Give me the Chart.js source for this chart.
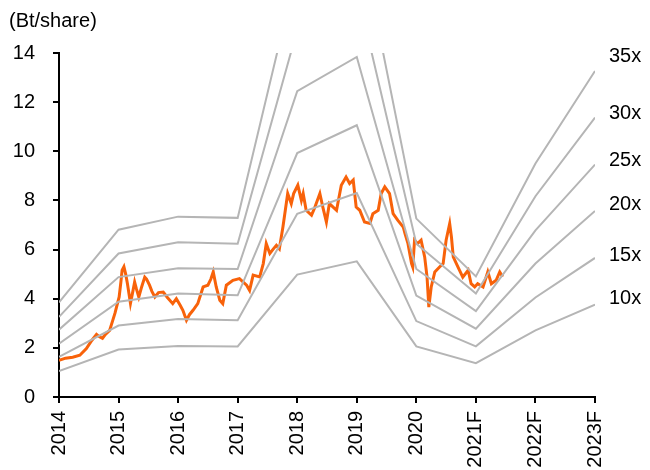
<!DOCTYPE html>
<html>
<head>
<meta charset="utf-8">
<script src="https://cdn.jsdelivr.net/npm/chart.js@4"></script>
<style>
  html, body { margin: 0; padding: 0; background: #fff; }
  #wrap { width: 650px; height: 470px; position: relative; }
</style>
</head>
<body>
<div id="wrap"><canvas id="peChart" width="650" height="470"></canvas></div>
<script>
// x axis: year index 0..9
const yearLabels = ['2014', '2015', '2016', '2017', '2018', '2019', '2020', '2021F', '2022F', '2023F'];

// PE bands (Bt/share) read at each year
const band10x = [1.06, 1.93, 2.08, 2.06, 4.98, 5.52, 2.06, 1.38, 2.71, 3.76];
const band15x = [1.63, 2.91, 3.17, 3.12, 7.46, 8.30, 3.09, 2.06, 4.05, 5.66];
const band20x = [2.17, 3.88, 4.21, 4.14, 9.93, 11.06, 4.13, 2.78, 5.43, 7.57];
const band25x = [2.74, 4.88, 5.24, 5.21, 12.45, 13.84, 5.21, 3.50, 6.78, 9.46];
const band30x = [3.26, 5.84, 6.30, 6.24, 14.94, 16.60, 6.24, 4.21, 8.17, 11.37];
const band35x = [3.85, 6.81, 7.34, 7.29, 17.43, 19.37, 7.26, 4.91, 9.50, 13.27];
const bandNames = ['10x', '15x', '20x', '25x', '30x', '35x'];

// share price: time (years since start of 2014) and price
const priceTime = [0.00, 0.11, 0.23, 0.35, 0.46, 0.55, 0.63, 0.68, 0.73, 0.78, 0.85, 0.90, 0.94, 0.97,
  1.01, 1.04, 1.06, 1.09, 1.12, 1.15, 1.20, 1.24, 1.27, 1.30, 1.34, 1.39, 1.44, 1.47, 1.52, 1.56,
  1.61, 1.67, 1.75, 1.82, 1.91, 1.97, 2.03, 2.08, 2.14, 2.19, 2.25, 2.33, 2.42, 2.50, 2.55, 2.59,
  2.64, 2.70, 2.75, 2.81, 2.92, 3.03, 3.15, 3.20, 3.26, 3.37, 3.43, 3.48, 3.54, 3.59, 3.65, 3.70,
  3.76, 3.80, 3.84, 3.90, 3.94, 4.01, 4.07, 4.10, 4.15, 4.24, 4.29, 4.38, 4.43, 4.49, 4.54, 4.66,
  4.74, 4.82, 4.88, 4.94, 4.99, 5.05, 5.13, 5.22, 5.27, 5.36, 5.41, 5.47, 5.55, 5.61, 5.69, 5.78,
  5.81, 5.86, 5.92, 5.94, 5.97, 6.02, 6.08, 6.14, 6.18, 6.21, 6.25, 6.31, 6.39, 6.45, 6.50, 6.56,
  6.59, 6.62, 6.70, 6.78, 6.87, 6.92, 6.98, 7.03, 7.12, 7.20, 7.26, 7.34, 7.40, 7.45];
const priceValue = [1.49, 1.58, 1.62, 1.70, 1.97, 2.30, 2.55, 2.45, 2.39, 2.55, 2.71, 3.10, 3.41, 3.70,
  4.07, 4.70, 5.16, 5.30, 5.00, 4.60, 3.81, 4.30, 4.68, 4.40, 4.07, 4.50, 4.88, 4.80, 4.55, 4.30,
  4.07, 4.25, 4.27, 4.05, 3.80, 4.00, 3.75, 3.53, 3.12, 3.35, 3.53, 3.80, 4.48, 4.55, 4.80, 5.09,
  4.48, 3.94, 3.80, 4.55, 4.75, 4.82, 4.55, 4.34, 4.96, 4.89, 5.43, 6.24, 5.84, 6.00, 6.17, 6.03,
  6.92, 7.60, 8.28, 7.87, 8.28, 8.62, 8.00, 8.28, 7.60, 7.40, 7.68, 8.28, 7.73, 7.12, 7.87, 7.60,
  8.62, 8.95, 8.69, 8.83, 7.73, 7.60, 7.12, 7.06, 7.46, 7.60, 8.28, 8.55, 8.28, 7.46, 7.19, 6.92,
  6.65, 6.24, 5.43, 5.29, 6.38, 6.24, 6.38, 5.70, 4.88, 3.66, 4.48, 5.09, 5.29, 5.43, 6.38, 7.06,
  6.50, 5.70, 5.29, 4.88, 5.16, 4.61, 4.48, 4.61, 4.48, 5.09, 4.61, 4.75, 5.09, 4.89];

const yTicks = [0, 2, 4, 6, 8, 10, 12, 14];

const FONT = 'Arial, "Liberation Sans", sans-serif';
const GREY = '#b5b5b5';
const ORANGE = '#f8620a';

function toPoints(arr) {
  return arr.map((v, i) => ({ x: i, y: v }));
}

const bands = [band10x, band15x, band20x, band25x, band30x, band35x];
const datasets = bands.map((b, i) => ({
  label: bandNames[i],
  data: toPoints(b),
  borderColor: GREY,
  borderWidth: 2,
  pointRadius: 0,
  tension: 0,
  fill: false
}));
datasets.push({
  label: 'Price',
  data: priceTime.map((t, i) => ({ x: t, y: priceValue[i] })),
  borderColor: ORANGE,
  borderWidth: 3,
  pointRadius: 0,
  tension: 0,
  fill: false
});

// labels for the bands at the right, plus unit caption top-left
const labelNudge = { '35x': -14, '30x': -4, '25x': -4, '20x': -7, '15x': -2, '10x': -6 };
const annotations = {
  id: 'annotations',
  afterDraw(chart) {
    const ctx = chart.ctx;
    const ys = chart.scales.y;
    ctx.save();
    ctx.fillStyle = '#000';
    ctx.font = '20px ' + FONT;
    ctx.textBaseline = 'middle';
    ctx.textAlign = 'left';
    bands.forEach((b, i) => {
      const name = bandNames[i];
      const y = ys.getPixelForValue(b[b.length - 1]) + labelNudge[name];
      ctx.fillText(name, chart.chartArea.right + 14, y);
    });
    ctx.fillText('(Bt/share)', 9, 21);
    ctx.restore();
  }
};

new Chart(document.getElementById('peChart').getContext('2d'), {
  type: 'line',
  data: { datasets: datasets },
  options: {
    responsive: false,
    animation: false,
    events: [],
    layout: { padding: { top: 53, right: 55, left: 0, bottom: 0 } },
    plugins: {
      legend: { display: false },
      tooltip: { enabled: false }
    },
    scales: {
      x: {
        type: 'linear',
        min: 0,
        max: 9,
        afterBuildTicks(scale) {
          scale.ticks = yearLabels.map((l, i) => ({ value: i }));
        },
        afterFit(scale) { scale.height = 73; },
        border: { color: '#000', width: 2 },
        grid: { drawOnChartArea: false, color: '#000', lineWidth: 2, tickLength: 6 },
        ticks: {
          color: '#000',
          font: { family: FONT, size: 20 },
          minRotation: 90,
          maxRotation: 90,
          padding: 8,
          callback: (v) => yearLabels[v]
        }
      },
      y: {
        min: 0,
        max: 14,
        afterBuildTicks(scale) {
          scale.ticks = yTicks.map(v => ({ value: v }));
        },
        afterFit(scale) { scale.width = 59; },
        border: { color: '#000', width: 2 },
        grid: { drawOnChartArea: false, color: '#000', lineWidth: 2, tickLength: 6 },
        ticks: {
          color: '#000',
          font: { family: FONT, size: 20 },
          padding: 18
        }
      }
    }
  },
  plugins: [annotations]
});
</script>
</body>
</html>
